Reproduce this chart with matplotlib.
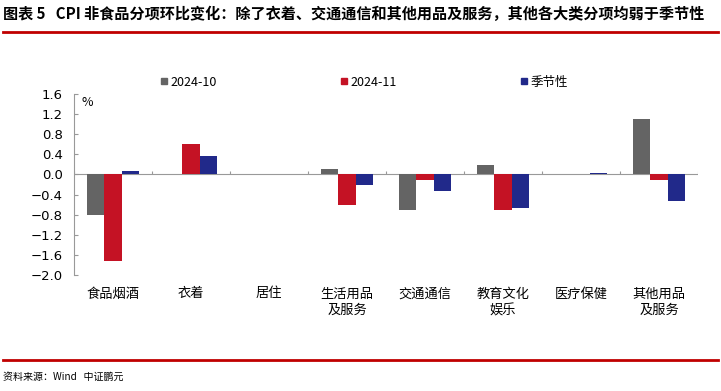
import numpy as np
import matplotlib.pyplot as plt
from matplotlib.lines import Line2D

plt.rcParams['font.family'] = ['Noto Sans CJK SC', 'DejaVu Sans']
plt.rcParams['axes.unicode_minus'] = False

categories = ['食品烟酒', '衣着', '居住', '生活用品\n及服务', '交通通信', '教育文化\n娱乐', '医疗保健', '其他用品\n及服务']
oct_2024 = [-0.80, 0.00, 0.00, 0.10, -0.70, 0.19, 0.00, 1.10]
nov_2024 = [-1.72, 0.60, 0.00, -0.61, -0.11, -0.71, 0.00, -0.11]
seasonal = [0.07, 0.36, 0.00, -0.21, -0.32, -0.66, 0.02, -0.52]
series_names = ['2024-10', '2024-11', '季节性']
colors = ['#646464', '#C41224', '#21298A']
yticks = [1.6, 1.2, 0.8, 0.4, 0.0, -0.4, -0.8, -1.2, -1.6, -2.0]

fig = plt.figure(figsize=(7.21, 3.91), dpi=100)
ax = fig.add_axes([0.1026, 0.2967, 0.8655, 0.4629])

x = np.arange(len(categories))
w = 0.22
for i, vals in enumerate([oct_2024, nov_2024, seasonal]):
    ax.bar(x + (i - 1) * w, vals, w, color=colors[i], linewidth=0,
           label=series_names[i], zorder=2)

ax.set_xlim(-0.5, len(categories) - 0.5)
ax.set_ylim(-2.0, 1.6)
ax.set_yticks(yticks)
ax.set_yticklabels(['%.1f' % v if v >= 0 else '−%.1f' % abs(v) for v in yticks],
                   family=['DejaVu Sans'], fontsize=9.5)
ax.tick_params(axis='y', direction='in', length=3, color='#999999', pad=8)
ax.set_xticks(x)
ax.set_xticklabels(categories, fontsize=9.5, linespacing=1.35, va='top')
ax.tick_params(axis='x', length=0, pad=9)

for s in ['top', 'right', 'bottom']:
    ax.spines[s].set_visible(False)
ax.spines['left'].set_color('#999999')
ax.spines['left'].set_linewidth(0.8)
ax.axhline(0, color='#999999', linewidth=0.8, zorder=1)
ax.vlines(np.arange(len(categories) + 1) - 0.5, 0, 0.07, color='#999999', linewidth=0.8, zorder=1)

ax.text(0.012, 0.99, '%', transform=ax.transAxes, fontsize=9, va='top', ha='left')

handles = [Line2D([0], [0], marker='s', linestyle='none', markersize=5,
                  markerfacecolor=c, markeredgecolor=c) for c in colors]
fig.legend(handles, series_names, loc='center left', bbox_to_anchor=(0.205, 0.79), ncol=3,
           frameon=False, fontsize=9, handletextpad=0.1, columnspacing=9.8, handlelength=0.8)

fig.text(0.004, 0.963, '图表 5   CPI 非食品分项环比变化：除了衣着、交通通信和其他用品及服务，其他各大类分项均弱于季节性',
         fontsize=10.9, fontweight='bold', va='center', ha='left')
fig.add_artist(Line2D([0.004, 0.996], [0.918, 0.918], color='#C00000', linewidth=2))
fig.add_artist(Line2D([0.004, 0.996], [0.079, 0.079], color='#C00000', linewidth=2))
fig.text(0.004, 0.035, '资料来源：Wind   中证鹏元', fontsize=7.2, va='center', ha='left')

fig.savefig('out.png', dpi=100)
